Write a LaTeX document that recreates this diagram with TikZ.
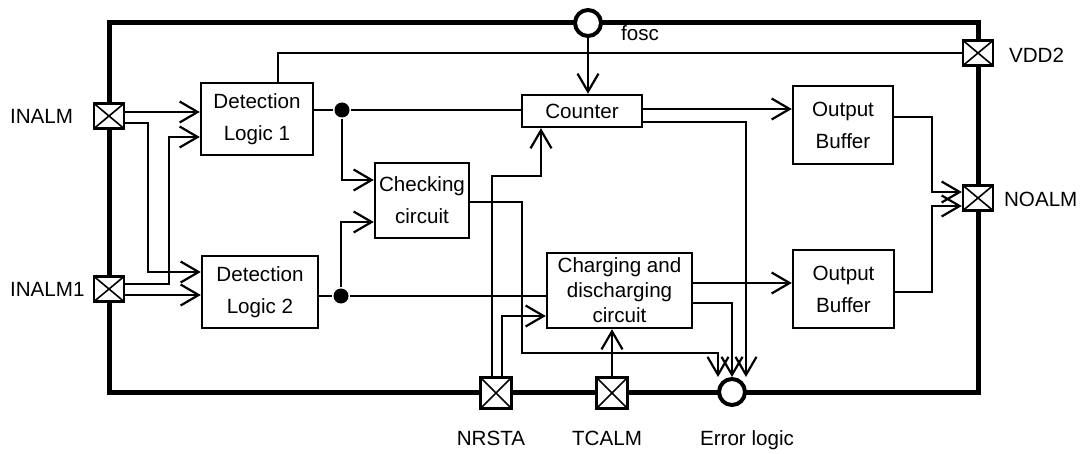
\documentclass[tikz,border=0pt]{standalone}
\usepackage{fontspec}
\setmainfont{Liberation Sans}
\usetikzlibrary{arrows.meta, positioning, calc}
\tikzset{%
   blk/.style={
      draw,
      line width=1.2pt,
      inner sep=1pt,
      align=center,
      font=\fontsize{10.3pt}{16pt}\selectfont
   },
   % pad: a white square with a cross through it
   port/.style={
      draw,
      fill=white,
      line width=1.2pt,
      inner sep=0pt,
      minimum width=15pt,
      minimum height=12.5pt,
      path picture={
         \draw[line width=0.8pt]
            (path picture bounding box.south west) -- (path picture bounding box.north east)
            (path picture bounding box.north west) -- (path picture bounding box.south east);
      }
   },
   bport/.style={port, minimum width=15.5pt, minimum height=15.5pt},
   pin/.style={
      circle,
      draw,
      fill=white,
      line width=2pt,
      inner sep=0pt,
      minimum size=13pt
   },
   dot/.style={
      circle,
      fill=black,
      inner sep=0pt,
      minimum size=7.5pt
   },
   lbl/.style={inner sep=0pt, font=\fontsize{10.3pt}{12pt}\selectfont},
   sig/.style={-{Straight Barb[length=9pt, width=10.5pt]}},
   border/.style={line width=2.5pt},
}

\begin{document}
\begin{tikzpicture}[x=0.5pt, y=-0.5pt, line width=1.1pt]
    \useasboundingbox (0,0) rectangle (1081,454);
    \draw[border] (109,23) rectangle (978,392);

    \node[blk, minimum width=56pt, minimum height=36pt] (dl1) at (257,119) {Detection\\Logic 1};
    \node[blk, minimum width=58pt, minimum height=36pt] (dl2) at (260,292) {Detection\\Logic 2};
    \node[blk, minimum width=47pt, minimum height=37.5pt] (check) at (422,200.5) {Checking\\circuit};
    \node[blk, minimum width=60pt, minimum height=16pt] (counter) at (582,111) {Counter};
    \node[blk, minimum width=72.5pt, minimum height=37.5pt,
          font=\fontsize{10.3pt}{12.5pt}\selectfont] (charge) at (619.5,290.5) {Charging and\\discharging\\circuit};
    \node[blk, minimum width=50pt, minimum height=39pt] (ob1) at (843,125) {Output\\Buffer};
    \node[blk, minimum width=50.5pt, minimum height=39pt] (ob2) at (843.5,289) {Output\\Buffer};

    \node[port] (INALM) at (109,116) {};
    \node[port] (INALM1) at (109,289) {};
    \node[port] (VDD2) at (978,53) {};
    \node[port] (NOALM) at (978,198) {};
    \node[bport] (NRSTA) at (496,393) {};
    \node[bport] (TCALM) at (612,393) {};
    \node[pin] (fosc) at (588,23) {};
    \node[pin] (err) at (732,392) {};

    \node[lbl, anchor=west] (INALM-t) at (9,116) {INALM};
    \node[lbl, anchor=west] (INALM1-t) at (9,289) {INALM1};
    \node[lbl, anchor=west] (VDD2-t) at (1008,55) {VDD2};
    \node[lbl, anchor=west] (NOALM-t) at (1003,199) {NOALM};
    \node[lbl, anchor=west] (fosc-t) at (620,33) {fosc};
    \node[lbl] (NRSTA-t) at (491,438) {NRSTA};
    \node[lbl] (TCALM-t) at (607,438) {TCALM};
    \node[lbl] (err-t) at (747,440) {Error logic};

    \node[dot] (dot1) at (342,110) {};
    \node[dot] (dot2) at (341,296) {};

    \draw[sig] (INALM.east |- 0,112) -- (dl1.west |- 0,112);
    \draw[sig] (INALM.east |- 0,123) -| (148,272) -- (dl2.west |- 0,272);
    \draw[sig] (INALM1.east |- 0,284) -| (169,137) -- (dl1.west |- 0,137);
    \draw[sig] (INALM1.east |- 0,295) -- (dl2.west |- 0,295);

    \draw (dl1.east |- dot1) -- (dot1) -- (counter.west |- dot1);
    \draw[sig] (dot1) |- (check.west |- 0,180);
    \draw (dl2.east |- dot2) -- (dot2) -- (charge.west |- dot2);
    \draw[sig] (dot2) |- (check.west |- 0,222);

    \draw[sig] (check.east |- 0,202) -| (522,353) -| ([xshift=-7pt]err.north);
    \draw[sig] ([xshift=-2pt]NRSTA.north) |- (541,176) -- (counter.south -| 541,176);
    \draw[sig] ([xshift=3pt]NRSTA.north) |- (charge.west |- 0,316);
    \draw[sig] (TCALM.north) -- (charge.south -| TCALM.north);

    \draw[sig] (charge.east |- 0,283) -- (ob2.west |- 0,283);
    \draw[sig] (charge.east |- 0,303) -| (err.north);
    \draw[sig] (counter.east |- 0,109) -- (ob1.west |- 0,109);
    \draw[sig] (counter.east |- 0,122) -| ([xshift=7pt]err.north);

    \draw[sig] (fosc.south) -- (counter.north -| fosc.south);
    \draw (VDD2.west) -| (dl1.north -| 278,0);

    \draw[sig] (ob1.east |- 0,117) -| (932,192) -- (NOALM.west |- 0,192);
    \draw[sig] (ob2.east |- 0,292) -| (932,206) -- (NOALM.west |- 0,206);
\end{tikzpicture}
\end{document}
